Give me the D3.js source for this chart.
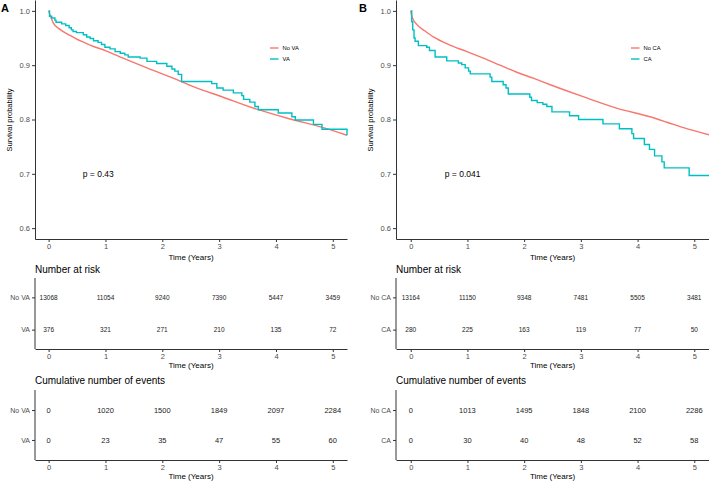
<!DOCTYPE html>
<html><head><meta charset="utf-8">
<script src="https://cdn.jsdelivr.net/npm/d3@7"></script>
<style>
body{margin:0;background:#fff;}
svg{display:block;font-family:"Liberation Sans",Arial,sans-serif;}
</style></head>
<body><svg id="c" width="709" height="481"></svg>
<script>
// ---------- data ----------
const timeTicks = [0, 1, 2, 3, 4, 5];
const survTicks = [0.6, 0.7, 0.8, 0.9, 1.0];

// Panel A
const groupsA = ["No VA", "VA"];
const noVA_time = [0, 0.023, 0.08, 0.2, 0.375, 0.55, 0.727, 1.02, 1.31, 1.61, 1.90, 2.19, 2.49, 3.07, 3.66, 4.25, 4.83, 5.25];
const noVA_surv = [1.0, 0.993, 0.978, 0.966, 0.955, 0.945, 0.937, 0.926, 0.913, 0.900, 0.888, 0.876, 0.863, 0.841, 0.819, 0.801, 0.785, 0.771];
const va_time = [0, 0.015, 0.053, 0.11, 0.13, 0.23, 0.30, 0.36, 0.40, 0.43, 0.49, 0.61, 0.67, 0.73, 0.79, 0.87, 0.93, 0.99, 1.08, 1.17, 1.26, 1.34, 1.40, 1.61, 1.73, 1.90, 2.08, 2.17, 2.22, 2.28, 2.34, 2.87, 2.96, 3.07, 3.25, 3.40, 3.43, 3.54, 3.63, 3.69, 4.04, 4.28, 4.34, 4.66, 4.81, 5.25];
const va_surv = [1.0, 0.990, 0.987, 0.983, 0.979, 0.976, 0.973, 0.969, 0.965, 0.962, 0.960, 0.956, 0.952, 0.949, 0.945, 0.942, 0.938, 0.933, 0.930, 0.925, 0.922, 0.919, 0.915, 0.913, 0.907, 0.903, 0.898, 0.893, 0.889, 0.883, 0.870, 0.866, 0.858, 0.854, 0.849, 0.844, 0.837, 0.832, 0.824, 0.818, 0.812, 0.805, 0.799, 0.791, 0.782, 0.771];
const riskA_noVA = [13068, 11054, 9240, 7390, 5447, 3459];
const riskA_VA = [376, 321, 271, 210, 135, 72];
const eventsA_noVA = [0, 1020, 1500, 1849, 2097, 2284];
const eventsA_VA = [0, 23, 35, 47, 55, 60];
const pA = "p = 0.43";

// Panel B
const groupsB = ["No CA", "CA"];
const noCA_time = [0, 0.018, 0.106, 0.252, 0.40, 0.69, 0.99, 1.28, 1.575, 1.87, 2.16, 2.46, 3.04, 3.63, 4.22, 4.52, 4.81, 5.26];
const noCA_surv = [1.0, 0.990, 0.975, 0.963, 0.952, 0.937, 0.925, 0.913, 0.900, 0.887, 0.876, 0.864, 0.842, 0.821, 0.805, 0.795, 0.785, 0.772];
const ca_time = [0, 0.018, 0.035, 0.058, 0.076, 0.134, 0.282, 0.33, 0.43, 0.635, 0.84, 0.90, 0.96, 1.02, 1.05, 1.40, 1.43, 1.63, 1.68, 1.72, 2.10, 2.13, 2.23, 2.33, 2.40, 2.49, 2.80, 2.96, 3.39, 3.68, 3.90, 3.93, 4.12, 4.21, 4.30, 4.43, 4.47, 4.91, 5.26];
const ca_surv = [1.0, 0.980, 0.965, 0.950, 0.944, 0.936, 0.933, 0.927, 0.915, 0.908, 0.904, 0.901, 0.895, 0.889, 0.884, 0.878, 0.870, 0.864, 0.858, 0.847, 0.841, 0.835, 0.831, 0.828, 0.824, 0.814, 0.807, 0.800, 0.792, 0.783, 0.774, 0.765, 0.754, 0.745, 0.733, 0.722, 0.711, 0.697, 0.697];
const riskB_noCA = [13164, 11150, 9348, 7481, 5505, 3481];
const riskB_CA = [280, 225, 163, 119, 77, 50];
const eventsB_noCA = [0, 1013, 1495, 1848, 2100, 2286];
const eventsB_CA = [0, 30, 40, 48, 52, 58];
const pB = "p = 0.041";

// ---------- drawing ----------
const RED = "#F8766D", CYAN = "#00BFC4", AX = "#333333", TXT = "#4D4D4D";
const svg = d3.select("#c");
const fmtInt = d3.format("d");

function styleAxis(g) {
  g.select(".domain").attr("stroke", AX).attr("stroke-width", 1);
  g.selectAll(".tick line").attr("stroke", AX).attr("stroke-width", 1);
  g.selectAll(".tick text").attr("fill", TXT).attr("font-family", "Liberation Sans, Arial, sans-serif");
}

function panel(cfg) {
  const x = d3.scaleLinear().domain(cfg.xDomain).range([cfg.left, cfg.right]);
  const y = d3.scaleLinear().domain([0.58, 1.02]).range([239, 0]);

  svg.append("text").attr("x", cfg.letterX).attr("y", 12).attr("font-size", 11)
    .attr("font-weight", "bold").attr("fill", "#000").text(cfg.letter);

  const gy = svg.append("g").attr("transform", `translate(${cfg.left},0)`)
    .call(d3.axisLeft(y).tickValues(survTicks).tickFormat(d3.format(".1f")).tickSize(3).tickSizeOuter(0).tickPadding(2));
  gy.selectAll(".tick text").attr("font-size", 7.5);
  styleAxis(gy);
  const gx = svg.append("g").attr("transform", "translate(0,239)")
    .call(d3.axisBottom(x).tickValues(timeTicks).tickFormat(fmtInt).tickSize(3).tickSizeOuter(0).tickPadding(1.5));
  gx.selectAll(".tick text").attr("font-size", 7.5);
  styleAxis(gx);

  svg.append("text").attr("transform", `translate(${cfg.left - 23},120) rotate(-90)`)
    .attr("text-anchor", "middle").attr("font-size", 7.5).attr("fill", "#000").text("Survival probability");
  svg.append("text").attr("x", (cfg.left + cfg.right) / 2).attr("y", 260)
    .attr("text-anchor", "middle").attr("font-size", 8).attr("fill", "#000").text("Time (Years)");

  const smooth = d3.line().x(d => x(d[0])).y(d => y(d[1])).curve(d3.curveMonotoneX);
  const step = d3.line().x(d => x(d[0])).y(d => y(d[1])).curve(d3.curveStepAfter);
  svg.append("path").datum(d3.zip(cfg.t0, cfg.s0)).attr("d", smooth)
    .attr("fill", "none").attr("stroke", RED).attr("stroke-width", 1.4);
  svg.append("path").datum(d3.zip(cfg.t1, cfg.s1)).attr("d", step)
    .attr("fill", "none").attr("stroke", CYAN).attr("stroke-width", 1.4);

  const lg = svg.append("g");
  [[cfg.groups[0], RED, 48], [cfg.groups[1], CYAN, 59]].forEach(([lab, col, yy]) => {
    lg.append("line").attr("x1", cfg.legX).attr("x2", cfg.legX + 8.5).attr("y1", yy).attr("y2", yy)
      .attr("stroke", col).attr("stroke-width", 1.4);
    lg.append("text").attr("x", cfg.legX + 12.5).attr("y", yy).attr("dy", "0.35em")
      .attr("font-size", 5.8).attr("fill", "#000").text(lab);
  });

  svg.append("text").attr("x", x(cfg.pT)).attr("y", y(0.7)).attr("dy", "0.35em")
    .attr("font-size", 8.5).attr("fill", "#000").text(cfg.p);

  function table(title, titleY, top, bottom, pad, rows, fs) {
    svg.append("text").attr("x", cfg.left).attr("y", titleY).attr("dy", "0.35em")
      .attr("font-size", 10).attr("fill", "#000").text(title);
    const yb = d3.scalePoint().domain(cfg.groups).range([top, bottom]).padding(pad);
    const ga = svg.append("g").attr("transform", `translate(${cfg.left},0)`)
      .call(d3.axisLeft(yb).tickSize(3).tickSizeOuter(0).tickPadding(2));
    ga.selectAll(".tick text").attr("font-size", 7).attr("fill", TXT);
    ga.select(".domain").remove();
    styleAxis(ga);
    svg.append("line").attr("x1", cfg.left).attr("x2", cfg.left).attr("y1", top).attr("y2", bottom)
      .attr("stroke", AX).attr("stroke-width", 1);
    const gbx = svg.append("g").attr("transform", `translate(0,${bottom})`)
      .call(d3.axisBottom(x).tickValues(timeTicks).tickFormat(fmtInt).tickSize(3).tickSizeOuter(0).tickPadding(1.5));
    gbx.selectAll(".tick text").attr("font-size", 7.5);
    styleAxis(gbx);
    svg.append("text").attr("x", (cfg.left + cfg.right) / 2).attr("y", bottom + 19)
      .attr("text-anchor", "middle").attr("font-size", 8).attr("fill", "#000").text("Time (Years)");
    rows.forEach((vals, i) => {
      svg.append("g").selectAll("text").data(vals).join("text")
        .attr("x", (d, j) => x(timeTicks[j])).attr("y", yb(cfg.groups[i])).attr("dy", "0.35em")
        .attr("text-anchor", "middle").attr("font-size", fs).attr("fill", "#222").text(d => d);
    });
  }
  table("Number at risk", 269, 278, 349, 0.6, [cfg.r0, cfg.r1], 6.5);
  table("Cumulative number of events", 380, 390, 460, 0.67, [cfg.e0, cfg.e1], 7.5);
}

panel({letter: "A", letterX: 1, left: 35, right: 347, xDomain: [-0.24, 5.25], groups: groupsA,
  t0: noVA_time, s0: noVA_surv, t1: va_time, s1: va_surv, legX: 270, pT: 0.6, p: pA,
  r0: riskA_noVA, r1: riskA_VA, e0: eventsA_noVA, e1: eventsA_VA});
panel({letter: "B", letterX: 359, left: 396, right: 709, xDomain: [-0.26, 5.26], groups: groupsB,
  t0: noCA_time, s0: noCA_surv, t1: ca_time, s1: ca_surv, legX: 631, pT: 0.6, p: pB,
  r0: riskB_noCA, r1: riskB_CA, e0: eventsB_noCA, e1: eventsB_CA});
</script></body></html>
